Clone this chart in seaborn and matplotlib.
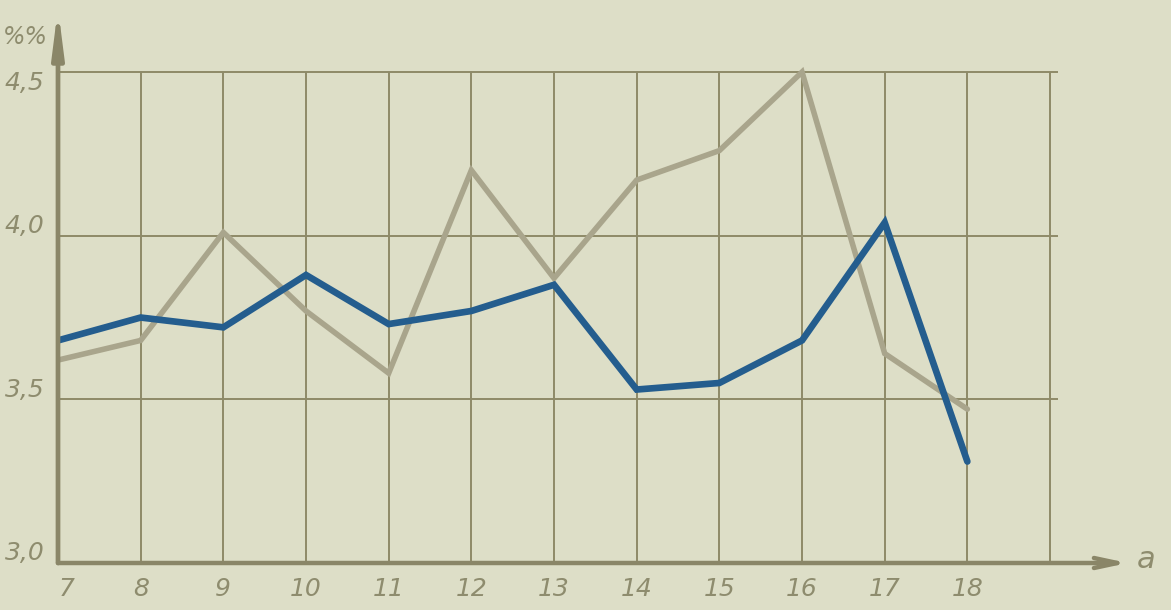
import matplotlib
matplotlib.use("Agg")
import matplotlib.pyplot as plt
import matplotlib.transforms as mtransforms
import seaborn as sns
import pandas as pd

# ---- data ----
years = [7, 8, 9, 10, 11, 12, 13, 14, 15, 16, 17, 18]
gray_series = [3.62, 3.68, 4.01, 3.77, 3.58, 4.20, 3.87, 4.17, 4.26, 4.50, 3.64, 3.47]
blue_series = [3.68, 3.75, 3.72, 3.88, 3.73, 3.77, 3.85, 3.53, 3.55, 3.68, 4.04, 3.31]
x_grid = [8, 9, 10, 11, 12, 13, 14, 15, 16, 17, 18, 19]
y_ticks = [3.0, 3.5, 4.0, 4.5]
y_labels = ["3,0", "3,5", "4,0", "4,5"]
x_labels = ["7", "8", "9", "10", "11", "12", "13", "14", "15", "16", "17", "18"]
y_unit = "%%"
x_unit = "a"

PAPER = "#dddec7"
GRID = "#8e8a68"
AXIS = "#8a8668"
TEXT = "#8e8c6e"
GRAYLINE = "#a9a58c"
BLUE = "#245d8e"

sns.set_theme(style="white")
plt.rcParams['font.family'] = ['DejaVu Sans']

W, H = 1171, 610
fig = plt.figure(figsize=(W / 100, H / 100), dpi=100, facecolor=PAPER)
x0_px, x_step = 58, 82.67
y0_px, y_step = 563, 327.3
left_px, right_px, top_px = 58, 1132, 8
xmax = 7 + (right_px - x0_px) / x_step
ymax = 3.0 + (y0_px - top_px) / y_step
ax = fig.add_axes([left_px / W, (H - y0_px) / H, (right_px - left_px) / W, (y0_px - top_px) / H])
ax.set_facecolor(PAPER)
ax.set_xlim(7, xmax)
ax.set_ylim(3.0, ymax)
for s in ax.spines.values():
    s.set_visible(False)

# grid
ax.hlines([v for v in y_ticks if v > 3.0], 7, 19.1, color=GRID, lw=1.4, zorder=1)
ax.vlines(x_grid, 3.0, 4.5, color=GRID, lw=1.4, zorder=1)

df = pd.DataFrame({
    "x": years + years,
    "value": gray_series + blue_series,
    "series": ["gray"] * len(years) + ["blue"] * len(years),
})
sns.lineplot(data=df[df.series == "gray"], x="x", y="value", color=GRAYLINE, lw=4.0,
             ax=ax, zorder=3, legend=False, solid_joinstyle="miter")
sns.lineplot(data=df[df.series == "blue"], x="x", y="value", color=BLUE, lw=4.8,
             ax=ax, zorder=4, legend=False, solid_joinstyle="miter")

# axes with arrows
ax.annotate("", xy=(7, ymax), xytext=(7, 3.0), xycoords="data",
            arrowprops=dict(arrowstyle="-|>,head_length=2.2,head_width=0.28", color=AXIS, lw=3.4,
                            shrinkA=0, shrinkB=0), zorder=5, annotation_clip=False)
ax.annotate("", xy=(xmax - 0.05, 3.0), xytext=(7, 3.0), xycoords="data",
            arrowprops=dict(arrowstyle="->,head_length=1.4,head_width=0.3", color=AXIS, lw=3.2,
                            shrinkA=0, shrinkB=0), zorder=5, annotation_clip=False)

ax.set_xlabel("")
ax.set_ylabel("")
ax.set_xticks([])
ax.set_yticks([])

fs = dict(color=TEXT, fontstyle="italic", fontsize=18)
for xv, lab in zip(years, x_labels):
    dx = 6 if xv == years[0] else 0
    tr = mtransforms.offset_copy(ax.transData, fig=fig, x=dx, y=-19, units="points")
    ax.text(xv, 3.0, lab, transform=tr, ha="center", va="center", **fs)
for yv, lab in zip(y_ticks, y_labels):
    dy = -8 if yv == y_ticks[-1] else 7
    tr = mtransforms.offset_copy(ax.transData, fig=fig, x=-24, y=dy, units="points")
    ax.text(7, yv, lab, transform=tr, ha="center", va="center", **fs)
fig.text(25 / W, 1 - 37 / H, y_unit, ha="center", va="center", color=TEXT,
         fontstyle="italic", fontsize=17)
fig.text(1146 / W, 1 - 560 / H, x_unit, ha="center", va="center", color=TEXT,
         fontstyle="italic", fontsize=22)

fig.savefig("out.png", dpi=100, facecolor=PAPER)
